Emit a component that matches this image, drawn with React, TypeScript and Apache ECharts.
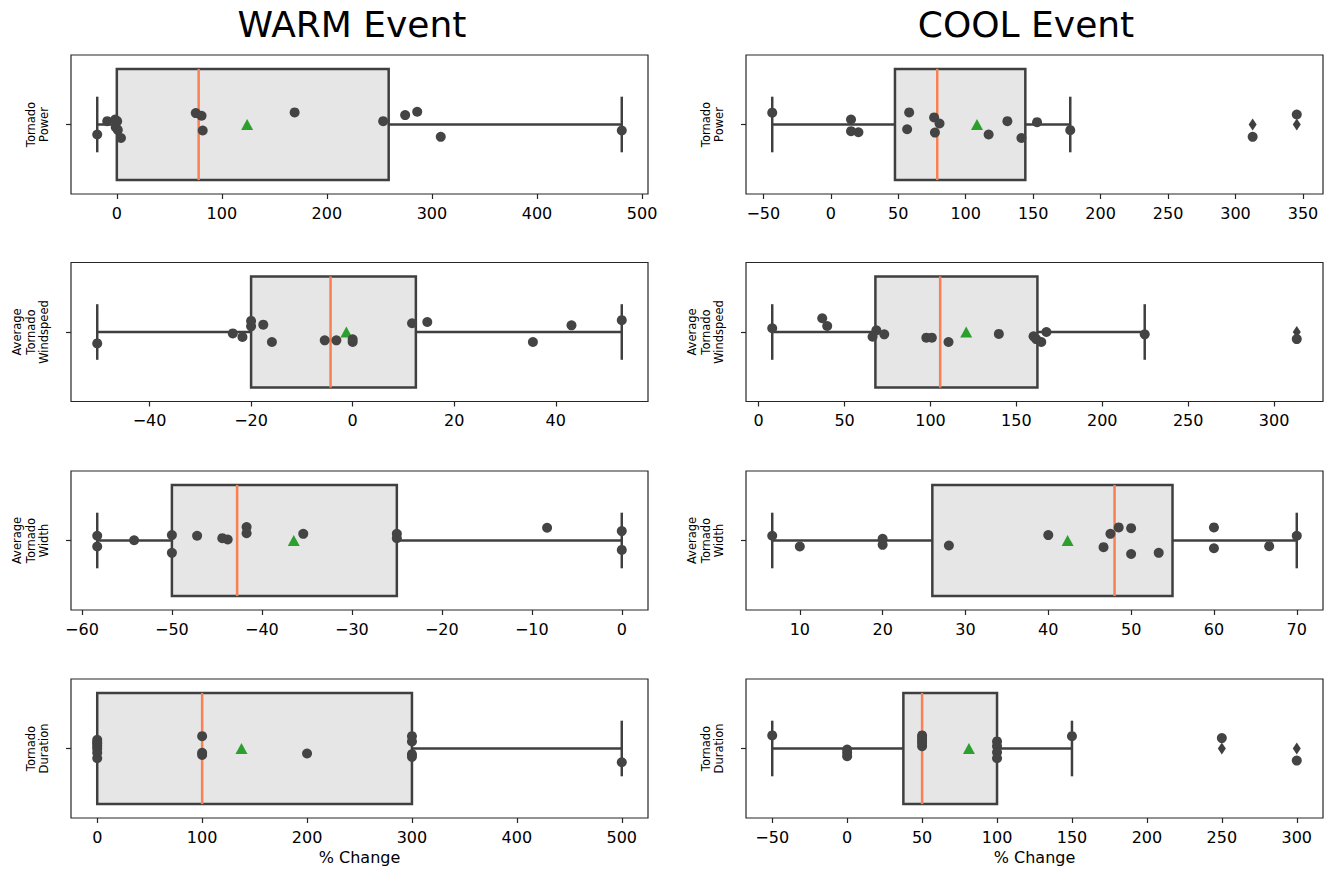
import React, { useEffect, useRef } from "react";
import * as echarts from "echarts";

// ---- data ----
const warmPower = [-18.6, -9.1, -1.5, 0.4, -1, 1, 4, 75.2, 80.7, 81.8, 169.3, 253.6, 274.5, 286, 308.4, 480.7];
const warmPowerJitter = [-0.072, 0.024, 0.036, 0.024, -0.019, -0.039, -0.097, 0.082, 0.063, -0.043, 0.087, 0.024, 0.068, 0.092, -0.089, -0.043];

const coolPower = [-43.4, 15, 15, 20.5, 56.6, 58.1, 76.6, 77.2, 80.6, 117, 130.9, 141.3, 152.9, 177.5, 312.7, 345.4];
const coolPowerJitter = [0.085, 0.036, -0.048, -0.056, -0.034, 0.087, 0.051, -0.058, 0.007, -0.072, 0.024, -0.097, 0.017, -0.041, -0.089, 0.072];

const warmWind = [-50.3, -23.6, -21.7, -20, -20, -17.6, -15.9, -5.5, -3.2, 0, 0, 11.7, 14.7, 35.5, 43.1, 53];
const warmWindJitter = [-0.082, -0.01, -0.036, 0.08, 0.041, 0.053, -0.072, -0.06, -0.06, -0.053, -0.072, 0.063, 0.072, -0.072, 0.048, 0.085];

const coolWind = [7.9, 37, 39.9, 66.3, 68.5, 73.1, 97.6, 100.8, 110.5, 139.8, 160, 161.5, 164.5, 167.5, 224.7, 313.2];
const coolWindJitter = [0.027, 0.099, 0.043, -0.034, 0.012, -0.017, -0.041, -0.041, -0.072, -0.014, -0.031, -0.051, -0.072, 0.0, -0.017, -0.051];

const warmWidth = [-58.3, -58.3, -54.2, -50, -50, -47.2, -44.4, -43.8, -41.7, -41.7, -35.4, -25, -25, -8.3, 0, 0];
const warmWidthJitter = [0.034, -0.043, 0.002, 0.039, -0.089, 0.034, 0.017, 0.007, 0.097, 0.053, 0.048, 0.048, 0.017, 0.092, 0.068, -0.068];

const coolWidth = [6.67, 10, 20, 20, 28, 40, 46.67, 47.5, 48.5, 50, 50, 53.33, 60, 60, 66.67, 70];
const coolWidthJitter = [0.034, -0.043, 0.012, -0.031, -0.036, 0.039, -0.048, 0.048, 0.094, 0.089, -0.097, -0.089, 0.094, -0.056, -0.041, 0.034];

const warmDuration = [0, 0, 0, 0, 0, 0, 0, 100, 100, 100, 200, 300, 300, 300, 300, 500];
const warmDurationJitter = [0.063, 0.045, 0.034, 0.017, -0.002, -0.031, -0.07, 0.089, -0.031, -0.046, -0.036, 0.089, 0.051, -0.041, -0.06, -0.099];

const coolDuration = [-50, 0, 0, 0, 50, 50, 50, 50, 50, 100, 100, 100, 100, 150, 250, 300];
const coolDurationJitter = [0.094, -0.007, -0.031, -0.056, 0.094, 0.075, 0.056, 0.039, 0.017, 0.051, 0.017, -0.027, -0.07, 0.089, 0.075, -0.087];

const ticksWarmPower = [0, 100, 200, 300, 400, 500];
const ticksCoolPower = [-50, 0, 50, 100, 150, 200, 250, 300, 350];
const ticksWarmWind = [-40, -20, 0, 20, 40];
const ticksCoolWind = [0, 50, 100, 150, 200, 250, 300];
const ticksWarmWidth = [-60, -50, -40, -30, -20, -10, 0];
const ticksCoolWidth = [10, 20, 30, 40, 50, 60, 70];
const ticksWarmDuration = [0, 100, 200, 300, 400, 500];
const ticksCoolDuration = [-50, 0, 50, 100, 150, 200, 250, 300];

const rowLabels = ["Tornado\nPower", "Average\nTornado\nWindspeed", "Average\nTornado\nWidth", "Tornado\nDuration"];
const colTitles = ["WARM Event", "COOL Event"];
const xAxisTitle = "% Change";

// ---- layout ----
const COL_LEFT = [71, 746];
const COL_WIDTH = 577;
const ROW_TOP = [55, 262.5, 471, 679];
const ROW_HEIGHT = 139;
const FONT = "'DejaVu Sans', sans-serif";

const panels = [
  { values: warmPower, jitter: warmPowerJitter, ticks: ticksWarmPower, row: 0, col: 0 },
  { values: coolPower, jitter: coolPowerJitter, ticks: ticksCoolPower, row: 0, col: 1 },
  { values: warmWind, jitter: warmWindJitter, ticks: ticksWarmWind, row: 1, col: 0 },
  { values: coolWind, jitter: coolWindJitter, ticks: ticksCoolWind, row: 1, col: 1 },
  { values: warmWidth, jitter: warmWidthJitter, ticks: ticksWarmWidth, row: 2, col: 0 },
  { values: coolWidth, jitter: coolWidthJitter, ticks: ticksCoolWidth, row: 2, col: 1 },
  { values: warmDuration, jitter: warmDurationJitter, ticks: ticksWarmDuration, row: 3, col: 0 },
  { values: coolDuration, jitter: coolDurationJitter, ticks: ticksCoolDuration, row: 3, col: 1 },
];

function quantile(sorted: number[], p: number) {
  const pos = (sorted.length - 1) * p;
  const lo = Math.floor(pos);
  const hi = Math.ceil(pos);
  return sorted[lo] + (sorted[hi] - sorted[lo]) * (pos - lo);
}

function stats(values: number[]) {
  const s = [...values].sort((a, b) => a - b);
  const q1 = quantile(s, 0.25);
  const med = quantile(s, 0.5);
  const q3 = quantile(s, 0.75);
  const iqr = q3 - q1;
  const loFence = q1 - 1.5 * iqr;
  const hiFence = q3 + 1.5 * iqr;
  const inside = s.filter((v) => v >= loFence && v <= hiFence);
  const wLo = inside[0];
  const wHi = inside[inside.length - 1];
  const fliers = s.filter((v) => v < loFence || v > hiFence);
  const mean = s.reduce((a, b) => a + b, 0) / s.length;
  const range = s[s.length - 1] - s[0];
  return { q1, med, q3, wLo, wHi, fliers, mean, min: s[0] - 0.05 * range, max: s[s.length - 1] + 0.05 * range };
}

const fmt = (v: number) => String(v).replace("-", "\u2212");

export default function App() {
  const ref = useRef<HTMLDivElement>(null);
  useEffect(() => {
    if (!ref.current) return;
    const chart = echarts.init(ref.current, undefined, { renderer: "svg" });
    const grids: any[] = [];
    const xAxes: any[] = [];
    const yAxes: any[] = [];
    const series: any[] = [];
    const graphics: any[] = [];

    panels.forEach((p, i) => {
      const st = stats(p.values);
      grids.push({
        left: COL_LEFT[p.col],
        top: ROW_TOP[p.row],
        width: COL_WIDTH,
        height: ROW_HEIGHT,
        show: true,
        borderColor: "#262626",
        borderWidth: 1.2,
        backgroundColor: "transparent",
      });
      xAxes.push({
        type: "value",
        gridIndex: i,
        position: "bottom",
        min: st.min,
        max: st.max,
        axisLine: { show: false, onZero: false },
        splitLine: { show: false },
        axisTick: { show: true, customValues: p.ticks, length: 5, lineStyle: { color: "#262626", width: 1.2 } },
        axisLabel: { show: true, customValues: p.ticks, formatter: fmt, fontSize: 16, color: "#000", fontFamily: FONT, margin: 11 },
        name: p.row === 3 ? xAxisTitle : "",
        nameLocation: "middle",
        nameGap: 31,
        nameTextStyle: { fontSize: 16, color: "#000", fontFamily: FONT },
      });
      yAxes.push({
        type: "value",
        gridIndex: i,
        position: "left",
        min: -0.5,
        max: 0.5,
        axisLine: { show: false, onZero: false },
        splitLine: { show: false },
        axisLabel: { show: false },
        axisTick: { show: true, customValues: [0], length: 5, lineStyle: { color: "#262626", width: 1.2 } },
      });
      series.push({
        type: "custom",
        xAxisIndex: i,
        yAxisIndex: i,
        z: 2,
        silent: true,
        data: [[st.q1, st.med, st.q3, st.wLo, st.wHi]],
        encode: { x: [0, 1, 2, 3, 4] },
        renderItem: (_params: any, api: any) => {
          const q1 = api.value(0), med = api.value(1), q3 = api.value(2), lo = api.value(3), hi = api.value(4);
          const c = (x: number, y: number) => api.coord([x, y]);
          const [xq1, yTop] = c(q1, 0.4);
          const [xq3, yBot] = c(q3, -0.4);
          const [xm] = c(med, 0);
          const [xlo, yMid] = c(lo, 0);
          const [xhi] = c(hi, 0);
          const [, capTop] = c(lo, 0.2);
          const [, capBot] = c(lo, -0.2);
          const ls = { stroke: "#3f3f3f", lineWidth: 2.5 };
          return {
            type: "group",
            children: [
              { type: "line", shape: { x1: xlo, y1: yMid, x2: xq1, y2: yMid }, style: ls },
              { type: "line", shape: { x1: xq3, y1: yMid, x2: xhi, y2: yMid }, style: ls },
              { type: "line", shape: { x1: xlo, y1: capTop, x2: xlo, y2: capBot }, style: ls },
              { type: "line", shape: { x1: xhi, y1: capTop, x2: xhi, y2: capBot }, style: ls },
              {
                type: "rect",
                shape: { x: xq1, y: yTop, width: xq3 - xq1, height: yBot - yTop },
                style: { fill: "#e6e6e6", stroke: "#3f3f3f", lineWidth: 2.5 },
              },
              { type: "line", shape: { x1: xm, y1: yTop, x2: xm, y2: yBot }, style: { stroke: "#fa7f52", lineWidth: 2.5 } },
            ],
          };
        },
      });
      series.push({
        type: "scatter",
        xAxisIndex: i,
        yAxisIndex: i,
        z: 3,
        symbol: "diamond",
        symbolSize: [8, 12],
        itemStyle: { color: "#3f3f3f", opacity: 1 },
        data: st.fliers.map((v) => [v, 0]),
      });
      series.push({
        type: "scatter",
        xAxisIndex: i,
        yAxisIndex: i,
        z: 3,
        symbol: "triangle",
        symbolSize: [12, 11],
        itemStyle: { color: "#2ca02c", opacity: 1 },
        data: [[st.mean, 0]],
      });
      series.push({
        type: "scatter",
        xAxisIndex: i,
        yAxisIndex: i,
        z: 4,
        symbol: "circle",
        symbolSize: 10,
        itemStyle: { color: "#444444", opacity: 1 },
        data: p.values.map((v, k) => [v, p.jitter[k]]),
      });
    });

    // row labels
    const LINE_H = 13.5;
    rowLabels.forEach((lbl, r) => {
      const n = lbl.split("\n").length;
      [0, 1].forEach((col) => {
        graphics.push({
          type: "text",
          x: COL_LEFT[col] - 27 - ((n - 1) * LINE_H) / 2,
          y: ROW_TOP[r] + ROW_HEIGHT / 2,
          rotation: Math.PI / 2,
          style: {
            text: lbl,
            fontSize: 11.5,
            lineHeight: LINE_H,
            fontFamily: FONT,
            fill: "#000",
            textAlign: "center",
            textVerticalAlign: "middle",
          },
        });
      });
    });
    const titleX = [352, 1026];
    colTitles.forEach((t, k) => {
      graphics.push({
        type: "text",
        x: titleX[k],
        y: 24,
        style: { text: t, fontSize: 36, fontFamily: FONT, fill: "#000", textAlign: "center", textVerticalAlign: "middle" },
      });
    });

    chart.setOption({
      animation: false,
      backgroundColor: "#ffffff",
      grid: grids,
      xAxis: xAxes,
      yAxis: yAxes,
      series,
      graphic: graphics,
    });
    return () => chart.dispose();
  }, []);
  return <div ref={ref} style={{ position: "fixed", left: 0, top: 0, width: 1330, height: 872 }} />;
}
